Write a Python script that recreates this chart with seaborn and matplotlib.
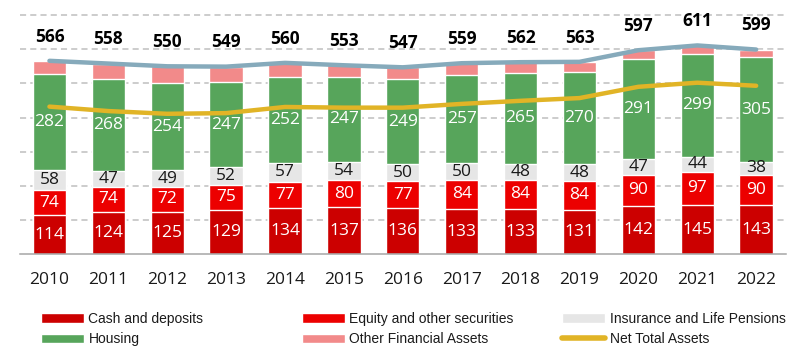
import numpy as np
import pandas as pd
import matplotlib
matplotlib.use("Agg")
import matplotlib.pyplot as plt
from matplotlib import font_manager
from matplotlib.font_manager import FontProperties
from matplotlib.patches import Patch
from matplotlib.lines import Line2D
import seaborn as sns

# ---- data (EUR bn) ----
years = ["2010", "2011", "2012", "2013", "2014", "2015", "2016",
         "2017", "2018", "2019", "2020", "2021", "2022"]
cash_deposits = [114, 124, 125, 129, 134, 137, 136, 133, 133, 131, 142, 145, 143]
equity_securities = [74, 74, 72, 75, 77, 80, 77, 84, 84, 84, 90, 97, 90]
insurance_pensions = [58, 47, 49, 52, 57, 54, 50, 50, 48, 48, 47, 44, 38]
housing = [282, 268, 254, 247, 252, 247, 249, 257, 265, 270, 291, 299, 305]
total_assets = [566, 558, 550, 549, 560, 553, 547, 559, 562, 563, 597, 611, 599]
net_total_assets = [432, 419, 411, 413, 431, 429, 429, 440, 449, 457, 490, 502, 493]

# ---- colours ----
C_CASH = "#CC0000"
C_EQUITY = "#EC0000"
C_INSUR = "#E6E6E6"
C_HOUSING = "#57A55B"
C_OTHER = "#F28A8A"
C_TOTAL_LINE = "#86AABB"
C_NET_LINE = "#E1B426"
C_TEXT = "#1A1A1A"

sns.set_theme(style="white")
plt.rcParams["font.family"] = ["Open Sans", "Noto Sans", "DejaVu Sans"]

installed = {f.name for f in font_manager.fontManager.ttflist}
if "Liberation Sans Narrow" in installed:
    legend_font = FontProperties(family=["Liberation Sans Narrow", "DejaVu Sans"], size=11.5)
else:
    legend_font = FontProperties(family=["Liberation Sans", "DejaVu Sans"], size=10)

df = pd.DataFrame({
    "year": years,
    "cash": cash_deposits,
    "equity": equity_securities,
    "insurance": insurance_pensions,
    "housing": housing,
    "total": total_assets,
})
df["lvl_equity"] = df["cash"] + df["equity"]
df["lvl_insurance"] = df["lvl_equity"] + df["insurance"]
df["lvl_housing"] = df["lvl_insurance"] + df["housing"]

W, H = 797, 347
fig = plt.figure(figsize=(W / 100, H / 100), dpi=100)
ax = fig.add_axes([20 / W, 1 - 254.3 / H, (785.6 - 20) / W, (254.3 - 13.3) / H])

# stacked bars: draw cumulative levels from the tallest down
layers = [("total", C_OTHER), ("lvl_housing", C_HOUSING),
          ("lvl_insurance", C_INSUR), ("lvl_equity", C_EQUITY), ("cash", C_CASH)]
for col, color in layers:
    sns.barplot(data=df, x="year", y=col, color=color, width=0.566,
                saturation=1, errorbar=None, ax=ax, zorder=2)

xpos = np.arange(len(years))
sns.lineplot(x=xpos, y=total_assets, color=C_TOTAL_LINE, linewidth=3.2,
             ax=ax, zorder=4, solid_capstyle="round")
sns.lineplot(x=xpos, y=net_total_assets, color=C_NET_LINE, linewidth=3.2,
             ax=ax, zorder=4, solid_capstyle="round")

# segment labels
fs = 12.5
for i in range(len(years)):
    c = cash_deposits[i]
    e = equity_securities[i]
    s = insurance_pensions[i]
    h = housing[i]
    ax.text(i, c / 2, str(c), ha="center", va="center", color="white", fontsize=fs, zorder=5)
    ax.text(i, c + e / 2, str(e), ha="center", va="center", color="white", fontsize=fs, zorder=5)
    ax.text(i, c + e + s / 2, str(s), ha="center", va="center", color=C_TEXT, fontsize=fs, zorder=5)
    ax.text(i, c + e + s + h / 2, str(h), ha="center", va="center", color="white", fontsize=fs, zorder=5)
    ax.annotate(str(total_assets[i]), (i, total_assets[i]), xytext=(0, 17.5),
                textcoords="offset points", ha="center", va="center",
                fontsize=fs, fontweight="bold", color="black", zorder=5)

# axes styling
ax.set_xlim(-0.5, len(years) - 0.5)
ax.set_ylim(0, 705)
ax.set_yticks(range(100, 800, 100))
ax.yaxis.grid(True, linestyle=(0, (4, 2.7)), color="#BFBFBF", linewidth=1.1)
ax.xaxis.grid(False)
ax.set_axisbelow(True)
ax.tick_params(axis="y", length=0, labelleft=False)
ax.set_xlabel("")
ax.set_ylabel("")
ax.set_xticks(xpos)
ax.set_xticklabels(years)
ax.set_xticks(np.arange(-0.5, len(years)), minor=True)
ax.tick_params(axis="x", which="major", length=0, pad=13, labelsize=fs, labelcolor=C_TEXT)
ax.tick_params(axis="x", which="minor", length=3.6, width=1.1, color="#A6A6A6", direction="out")
for side in ("left", "right", "top"):
    ax.spines[side].set_visible(False)
ax.spines["bottom"].set_color("#A6A6A6")
ax.spines["bottom"].set_linewidth(1.1)

# legend in three columns
legend_cols = [
    (41, [Patch(facecolor=C_CASH), Patch(facecolor=C_HOUSING)],
     ["Cash and deposits", "Housing"]),
    (301.5, [Patch(facecolor=C_EQUITY), Patch(facecolor=C_OTHER)],
     ["Equity and other securities", "Other Financial Assets"]),
    (562, [Patch(facecolor=C_INSUR),
           Line2D([], [], color=C_NET_LINE, linewidth=4, solid_capstyle="round")],
     ["Insurance and Life Pensions", "Net Total Assets"]),
]
fsize = legend_font.get_size_in_points()
for x0, handles, labels in legend_cols:
    leg = fig.legend(handles, labels, loc="upper left",
                     bbox_to_anchor=(x0 / W, 1 - 312 / H), frameon=False,
                     borderpad=0, borderaxespad=0, handlelength=31 / fsize,
                     handleheight=6.5 / fsize, handletextpad=3.2 / fsize,
                     labelspacing=4.4 / fsize, prop=legend_font)
    for t in leg.get_texts():
        t.set_color(C_TEXT)

fig.savefig("out.png", dpi=100)
